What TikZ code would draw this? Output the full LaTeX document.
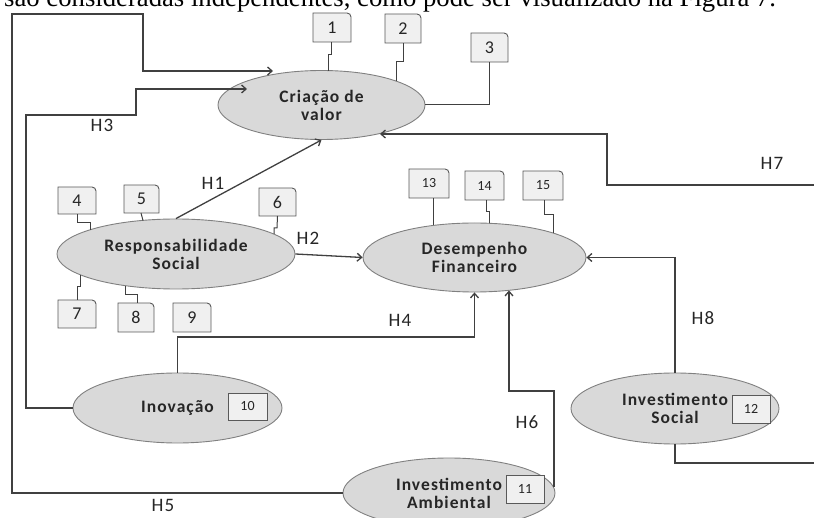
\documentclass[tikz,border=0pt]{standalone}
\usepackage{fontspec}
\setmainfont{Carlito}
\newfontfamily\bodyserif{Liberation Serif}
\newfontfamily\labfont[LetterSpace=6]{Carlito}
\usetikzlibrary{shapes.geometric,arrows.meta}
\definecolor{lnc}{HTML}{404040}
\definecolor{ellfill}{HTML}{D9D9D9}
\definecolor{elldraw}{HTML}{808080}
\definecolor{boxfill}{HTML}{F0F0F0}
\definecolor{boxdraw}{HTML}{595959}
\definecolor{txtc}{HTML}{262626}
\tikzset{
  ell/.style={ellipse, draw=elldraw, fill=ellfill, line width=0.9pt, inner sep=0pt},
  elltxt/.style={align=center, text=txtc, font=\labfont\bfseries\fontsize{17.5}{18}\selectfont},
  conn/.style={draw=lnc, line width=1.3pt},
  arr/.style={conn, -{Straight Barb[length=4.5pt,width=8pt]}},
  hlab/.style={text=txtc, font=\labfont\fontsize{19}{20}\selectfont},
  boxshape/.style={inner sep=0pt, outer sep=0pt},
  boxframe/.style={draw=boxdraw, fill=boxfill, line width=0.9pt},
  numtxt/.style={text=txtc, font=\fontsize{18}{19}\selectfont},
  smalltxt/.style={text=txtc, font=\fontsize{14}{15}\selectfont},
  sqbox/.style={rectangle, draw=boxdraw, fill=boxfill, line width=0.9pt, inner sep=0pt, text=txtc, font=\fontsize{14}{15}\selectfont}
}
\newcommand\rbox[6]{%
  \node[boxshape, minimum width=#3, minimum height=#4] (#1) at #2 {};
  \filldraw[boxframe] (#1.south west) -- (#1.north west) -- ([xshift=-4pt]#1.north east)
    to[out=0,in=90] ([yshift=-4pt]#1.north east) -- (#1.south east) -- cycle;
  \node[#6] at (#1.center) {#5};
}
\begin{document}
\begin{tikzpicture}[x=1pt,y=-1pt]
\useasboundingbox (0,0) rectangle (814,518);

% cut-off text line at the top
\node[anchor=base west, inner sep=0pt, font=\bodyserif\fontsize{26.7}{28}\selectfont] (toptext) at (4,7)
  {são consideradas independentes, como pode ser visualizado na Figura 7.};

% ellipses
\node[ell, minimum width=207, minimum height=69] (cv) at (321.5,105) {};
\node[elltxt] at (cv.center) {Criação de\\valor};
\node[ell, minimum width=238, minimum height=70] (rs) at (176,254) {};
\node[elltxt] at (rs.center) {Responsabilidade\\Social};
\node[ell, minimum width=223, minimum height=69] (df) at (474.5,257.5) {};
\node[elltxt] at (df.center) {Desempenho\\Financeiro};
\node[ell, minimum width=209, minimum height=70] (in) at (177.5,408) {};
\node[elltxt] at (in.center) {Inovação};
\node[ell, minimum width=212, minimum height=70] (ia) at (449,493) {};
\node[elltxt] at (ia.center) {Investimento\\Ambiental};
\node[ell, minimum width=208, minimum height=71] (is) at (675,408.5) {};
\node[elltxt] at (is.center) {Investimento\\Social};

% square boxes inside ellipses
\node[sqbox, minimum width=39, minimum height=27] (b10) at (247.5,406.5) {10};
\node[sqbox, minimum width=38, minimum height=28] (b11) at (525,489) {11};
\node[sqbox, minimum width=38, minimum height=28] (b12) at (751,409) {12};

% indicator boxes
\rbox{b1}{(332,27.5)}{38}{29}{1}{numtxt}
\rbox{b2}{(403,28.5)}{36}{29}{2}{numtxt}
\rbox{b3}{(489.5,47.5)}{37}{29}{3}{numtxt}
\rbox{b4}{(77,200.5)}{38}{27}{4}{numtxt}
\rbox{b5}{(141.5,199)}{35}{28}{5}{numtxt}
\rbox{b6}{(277.5,202)}{37}{28}{6}{numtxt}
\rbox{b7}{(77,314)}{38}{28}{7}{numtxt}
\rbox{b8}{(136,317.5)}{36}{29}{8}{numtxt}
\rbox{b9}{(192,317.5)}{38}{29}{9}{numtxt}
\rbox{b13}{(429,183.5)}{40}{29}{13}{smalltxt}
\rbox{b14}{(484.5,185.5)}{39}{29}{14}{smalltxt}
\rbox{b15}{(543,185.5)}{40}{29}{15}{smalltxt}

% indicator connectors
\draw[conn, line width=1pt] (b1.south) ++(-1,0) -- ++(0,13) -- ++(-3,0) -- (328,71);
\draw[conn, line width=1pt] (b2.south) -- (403,62) -- (396,62) -- (396,81);
\draw[conn, line width=1pt] (b3.south) |- (cv.east);
\draw[conn, line width=1pt] (b4.south) -- (77,223) -- (90,223) -- (90,230);
\draw[conn, line width=1pt] ([xshift=-0.5pt]b5.south) -- (143,220.5);
\draw[conn, line width=1pt] (b6.south) -- (277,228) -- (274,228) -- (274,234);
\draw[conn, line width=1pt] (b7.north) -- (77,287) -- (80,287) -- (80,275);
\draw[conn, line width=1pt] ([xshift=1pt]b8.north) -- (137,295) -- (125,295) -- (125,286);
\draw[conn, line width=1pt] ([xshift=4pt]b13.south) -- (433,225.5);
\draw[conn, line width=1pt] ([xshift=1.5pt]b14.south) -- (486,212) -- (489,212) -- (489,223.3);
\draw[conn, line width=1pt] ([xshift=1pt]b15.south) -- (544,215) -- (553,215) -- (553,233);

% hypotheses
\coordinate (h7end) at (814,185);
\coordinate (isend) at (814,463);
\draw[arr] (rs.north) -- (cv.south);
\draw[arr] (rs.east) -- (df.west);
\draw[arr] (in.west) -- (26,408) -- (26,115) -- (136,115) -- (136,89) -- (247,89);
\draw[arr] (in.north) -- (177.5,337) -| (df.south);
\draw[arr] (ia.west) -- (12,493) -- (12,14) -- (143,14) -- (143,71) -- (273,71);
\draw[arr] (554,487) -- (554,391) -- (509,391) -- (509,290.5);
\draw[arr] (h7end) -- (607,185) -- (607,134) -- (380,134);
\draw[arr] (is.north) |- (df.east);
\draw[conn] (is.south) |- (isend);

% labels
\node[hlab] (lh1) at (213,183) {H1};
\node[hlab] (lh2) at (308,238) {H2};
\node[hlab] (lh3) at (102,125) {H3};
\node[hlab] (lh4) at (400,320) {H4};
\node[hlab] (lh5) at (163,505) {H5};
\node[hlab] (lh6) at (527,422) {H6};
\node[hlab] (lh7) at (772,163) {H7};
\node[hlab] (lh8) at (703,318) {H8};
\end{tikzpicture}
\end{document}
